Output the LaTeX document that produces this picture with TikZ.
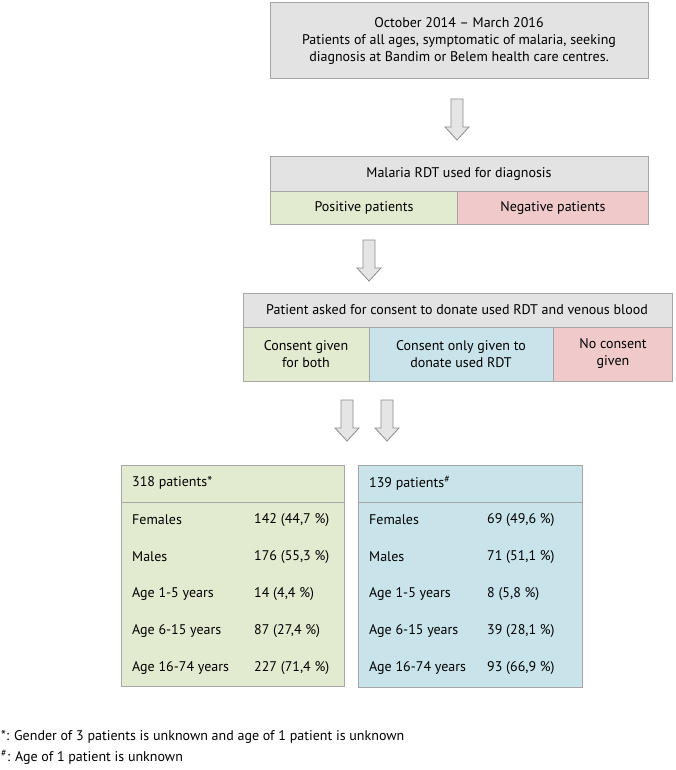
\documentclass[tikz,border=0pt]{standalone}
\usepackage{fontspec}
\setmainfont{PT Sans}
\begin{document}
\begin{tikzpicture}[x=1pt,y=-1pt,
  bx/.style={draw=black!35,line width=1pt},
  tx/.style={font=\fontsize{14}{17}\selectfont,align=center,inner sep=0},
  lt/.style={font=\fontsize{14}{17}\selectfont,anchor=west,inner sep=0},
  barrow/.style={draw=black!45,fill=black!10,line width=0.8pt}]
\definecolor{hgray}{HTML}{E3E3E3}
\definecolor{gr}{HTML}{E2EBCF}
\definecolor{pk}{HTML}{F0CACA}
\definecolor{bl}{HTML}{C8E3EA}
\useasboundingbox (0,0) rectangle (675,770);
\newcommand{\barr}[2]{\draw[barrow] (#1-6,#2) -- (#1+6,#2) -- (#1+6,#2+28) -- (#1+12,#2+28) -- (#1,#2+41) -- (#1-12,#2+28) -- (#1-6,#2+28) -- cycle;}
\newcommand{\tabrow}[6]{%
  \node[lt] (la#1) at (132,#2) {#3};
  \node[lt] (va#1) at (254,#2) {#4};
  \node[lt] (lb#1) at (369,#2) {#3};
  \node[lt] (vb#1) at (487,#2) {#5};}
% top
\draw[bx,fill=hgray] (270,3) rectangle (648,79);
\node[tx] (top) at (459,41) {October 2014 – March 2016\\Patients of all ages, symptomatic of malaria, seeking\\diagnosis at Bandim or Belem health care centres.};
\barr{457}{99}
% box2
\draw[bx,fill=hgray] (270,157) rectangle (648,191);
\draw[bx,fill=gr] (270,191) rectangle (457,224);
\draw[bx,fill=pk] (457,191) rectangle (648,224);
\node[tx] (b2) at (459,174) {Malaria RDT used for diagnosis};
\node[tx] (pos) at (364,208) {Positive patients};
\node[tx] (neg) at (553,208) {Negative patients};
\barr{369}{240}
% box3
\draw[bx,fill=hgray] (243,293) rectangle (672,327);
\draw[bx,fill=gr] (243,327) rectangle (369,381);
\draw[bx,fill=bl] (369,327) rectangle (553,381);
\draw[bx,fill=pk] (553,327) rectangle (672,381);
\node[tx] (b3) at (457,310) {Patient asked for consent to donate used RDT and venous blood};
\node[tx] (c1) at (306,354) {Consent given\\for both};
\node[tx] (c2) at (461,354) {Consent only given to\\donate used RDT};
\node[tx] (c3) at (613,354) {No consent\\given};
\barr{347}{400}
\barr{387}{400}
% tables
\draw[bx,fill=gr] (121,465) rectangle (344,686);
\draw[bx] (121,502) -- (344,502);
\draw[bx,fill=bl] (358,465) rectangle (582,687);
\draw[bx] (358,502) -- (582,502);
\node[lt] (h1) at (132,483) {318 patients*};
\node[lt] (h2) at (369,483) {139 patients$^{\#}$};
\tabrow{1}{520}{Females}{142 (44,7 \%)}{69 (49,6 \%)}{}
\tabrow{2}{557}{Males}{176 (55,3 \%)}{71 (51,1 \%)}{}
\tabrow{3}{594}{Age 1-5 years}{14 (4,4 \%)}{8 (5,8 \%)}{}
\tabrow{4}{631}{Age 6-15 years}{87 (27,4 \%)}{39 (28,1 \%)}{}
\tabrow{5}{668}{Age 16-74 years}{227 (71,4 \%)}{93 (66,9 \%)}{}
\node[lt] (f1) at (1,737) {*: Gender of 3 patients is unknown and age of 1 patient is unknown};
\node[lt] (f2) at (1,757) {$^{\#}$: Age of 1 patient is unknown};
\end{tikzpicture}
\end{document}
